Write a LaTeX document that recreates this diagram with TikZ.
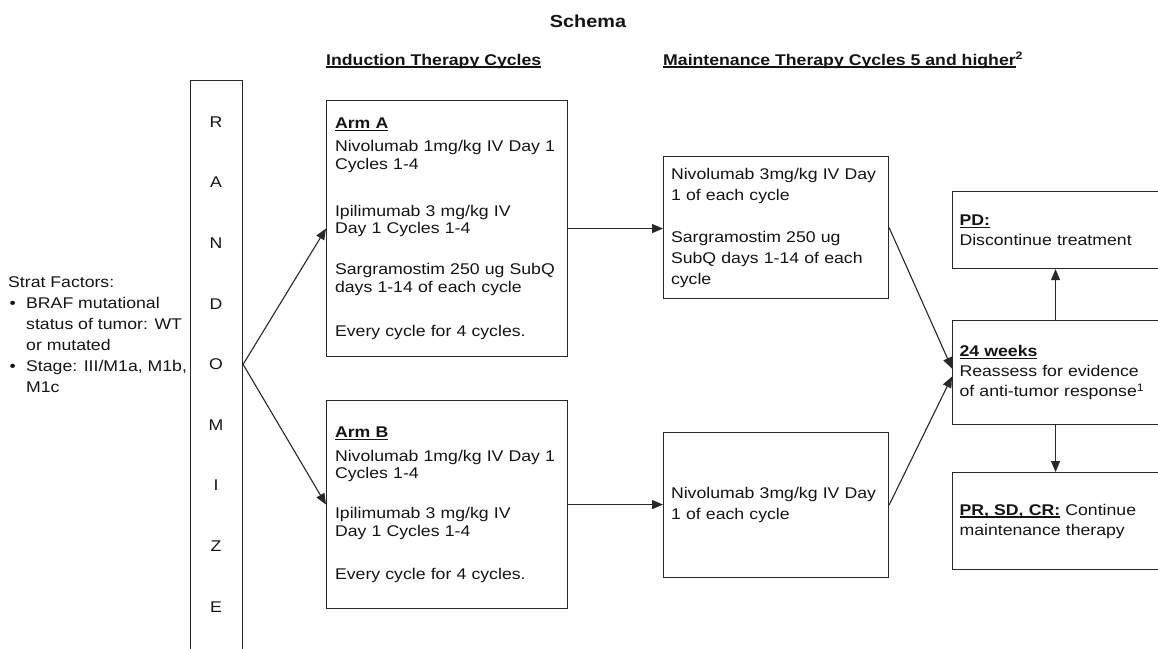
\documentclass[tikz,border=0pt]{standalone}
\usepackage{fontspec}
\setmainfont{Liberation Sans}[FakeStretch=1.14]
\usetikzlibrary{arrows.meta,positioning}
\definecolor{boxline}{RGB}{40,40,40}
\definecolor{inktext}{RGB}{20,20,20}
\newcommand{\undl}[1]{\setbox0\hbox{#1}\rlap{\rule[-2.6pt]{\wd0}{1.3pt}}\box0\relax}
\tikzset{
  sbox/.style={draw=boxline,line width=1.1pt,anchor=north west,align=left,inner ysep=4pt,text=inktext},
  armbox/.style={sbox,text width=224pt,inner xsep=8.5pt,font=\fontsize{15.5}{17.5}\selectfont},
  maintbox/.style={sbox,text width=210pt,inner xsep=7.5pt,minimum height=143pt,font=\fontsize{15.5}{21}\selectfont},
  outbox/.style={sbox,text width=200pt,inner xsep=7pt,font=\fontsize{15.5}{20}\selectfont},
  hdr/.style={anchor=base west,inner sep=0pt,text=inktext,font=\fontsize{15.5}{18}\selectfont\bfseries},
  letter/.style={inner sep=0pt,text=inktext,font=\fontsize{15.5}{18}\selectfont},
  flow/.style={-{Triangle[length=11pt,width=9pt]},line width=1.1pt,draw=boxline}
}
\begin{document}
\begin{tikzpicture}[x=1pt,y=-1pt]
  \useasboundingbox (0,0) rectangle (1158,648);
  \clip (0,0) rectangle (1158,648);

  % titles
  \node[anchor=base,inner sep=0pt,text=inktext,font=\fontsize{17.4}{20}\selectfont\bfseries] (title) at (588,27.5) {Schema};
  \node[hdr] (hind) at (326,65) {\undl{Induction Therapy Cycles}};
  \node[hdr] (hmaint) at (663,65) {\undl{Maintenance Therapy Cycles 5 and higher}\textsuperscript{2}};

  % stratification
  \node[anchor=base west,inner sep=0pt,text=inktext,font=\fontsize{15.5}{21}\selectfont] (strat) at (8,287.5) {%
    \begin{tabular}[t]{@{}p{18pt}@{}l@{}}
      \multicolumn{2}{@{}l@{}}{Strat Factors:}\\
      \hspace{1.5pt}\textbullet & BRAF mutational\\
      & status of tumor: WT\\
      & or mutated\\
      \hspace{1.5pt}\textbullet & Stage: III/M1a, M1b,\\
      & M1c
    \end{tabular}};

  % randomize column
  \node[draw=boxline,line width=1.1pt,anchor=north west,minimum width=52pt,minimum height=600pt] (rand) at (190,80) {};
  \foreach \ltr [count=\i] in {R,A,N,D,O,M,I,Z,E}
    \node[letter] (ltr\i) at (216,{122+60.6*(\i-1)}) {\ltr};

  % induction
  \node[armbox,minimum height=256pt] (armA) at (326,100) {%
    \undl{\textbf{Arm A}}\\[5.5pt]
    Nivolumab 1mg/kg IV Day 1\\
    Cycles 1-4\\[29.5pt]
    Ipilimumab 3 mg/kg IV\\
    Day 1 Cycles 1-4\\[23.5pt]
    Sargramostim 250 ug SubQ\\
    days 1-14 of each cycle\\[26.5pt]
    Every cycle for 4 cycles.};
  \node[armbox,minimum height=208pt] (armB) at (326,400) {%
    \undl{\textbf{Arm B}}\\[6.5pt]
    Nivolumab 1mg/kg IV Day 1\\
    Cycles 1-4\\[22.5pt]
    Ipilimumab 3 mg/kg IV\\
    Day 1 Cycles 1-4\\[25.5pt]
    Every cycle for 4 cycles.};

  % maintenance
  \node[maintbox,minimum height=142pt] (maintA) at (663,156) {%
    Nivolumab 3mg/kg IV Day\\
    1 of each cycle\\[21pt]
    Sargramostim 250 ug\\
    SubQ days 1-14 of each\\
    cycle};
  \node[maintbox,minimum height=145pt] (maintB) at (663,432) {%
    Nivolumab 3mg/kg IV Day\\
    1 of each cycle};

  % response
  \node[outbox,minimum height=77pt] (pd) at (952,191) {%
    \undl{\textbf{PD:}}\\
    Discontinue treatment};
  \node[outbox,minimum height=104pt] (wk) at (952,320) {%
    \undl{\textbf{24 weeks}}\\
    Reassess for evidence\\
    of anti-tumor response\textsuperscript{1}};
  \node[outbox,minimum height=97pt] (pr) at (952,472) {%
    \undl{\textbf{PR, SD, CR:}} Continue\\
    maintenance therapy};

  % connectors
  \draw[flow] (rand.east |- ltr5) -- (armA.west);
  \draw[flow] (rand.east |- ltr5) -- (armB.west);
  \draw[flow] (armA.east) -- (armA.east -| maintA.west);
  \draw[flow] (armB.east) -- (armB.east -| maintB.west);
  \draw[flow] (maintA.east) -- ([yshift=4pt]wk.west);
  \draw[flow] (maintB.east) -- ([yshift=-4pt]wk.west);
  \draw[flow] ([xshift=-4pt]wk.north) -- ([xshift=-4pt]pd.south);
  \draw[flow] ([xshift=-4pt]wk.south) -- ([xshift=-4pt]pr.north);
\end{tikzpicture}
\end{document}
